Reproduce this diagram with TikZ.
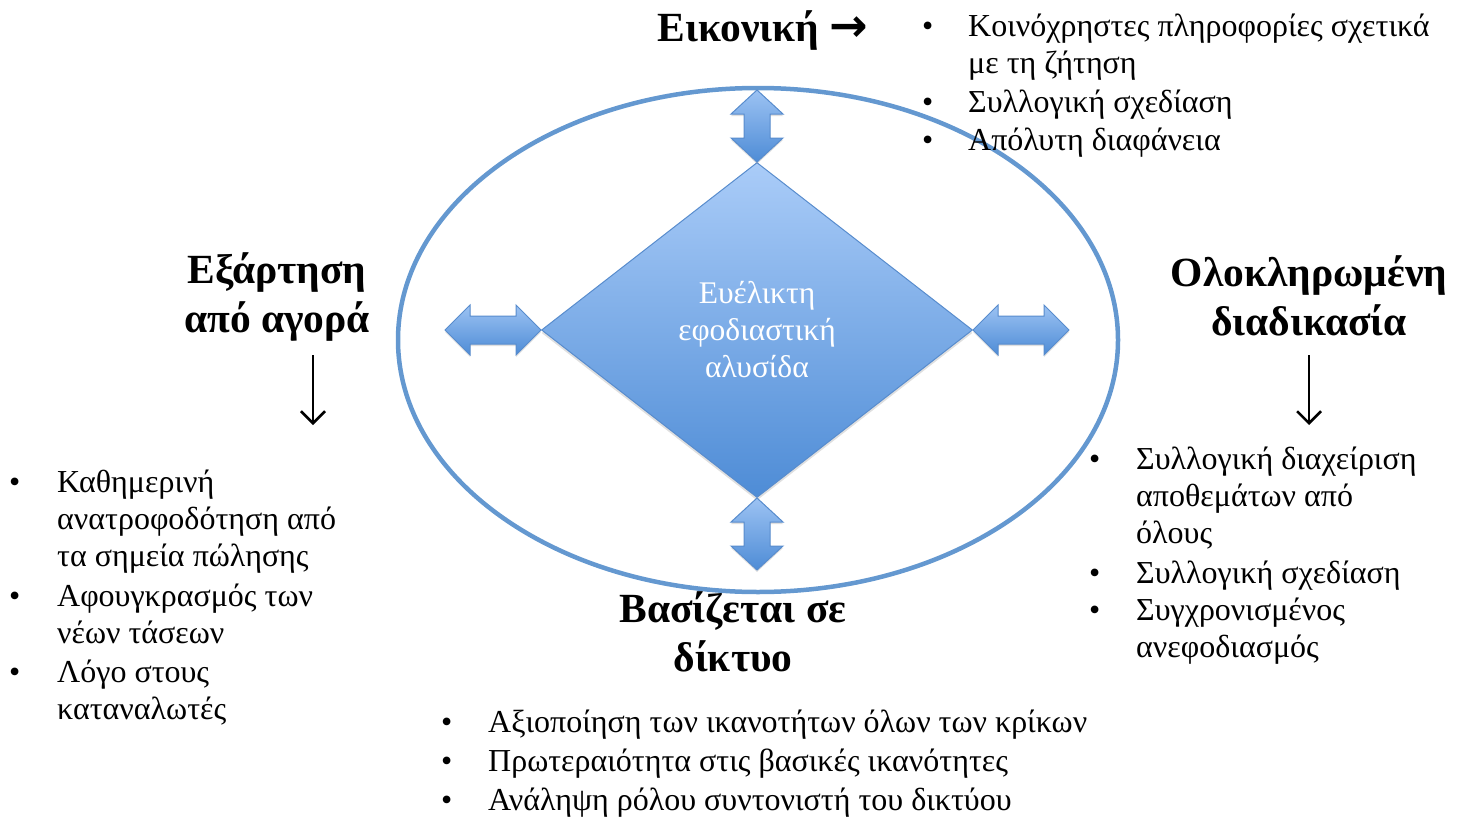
\documentclass[tikz,border=0pt]{standalone}
\usepackage{fontspec}
\setmainfont{Liberation Serif}
\newfontfamily\arrowfont{DejaVu Sans}
\usepackage{xcolor}
\usetikzlibrary{arrows.meta, shapes.geometric, shadows, positioning}

\definecolor{ringblue}{RGB}{100,152,208}
\definecolor{edgeblue}{RGB}{88,140,205}
\definecolor{toplight}{RGB}{170,204,248}
\definecolor{botdark}{RGB}{78,140,214}

\begin{document}
\begin{tikzpicture}[x=1pt, y=-1pt]
    % Define styles
    \tikzstyle{ring}=[ellipse, draw=ringblue, line width=4.5pt, minimum width=720pt, minimum height=504pt]
    \tikzstyle{core}=[diamond, draw=edgeblue, line width=1pt, top color=toplight, bottom color=botdark,
        minimum width=431pt, minimum height=335pt, inner sep=0pt, aspect=1.29, text=white,
        align=center, font=\fontsize{31.5}{37}\selectfont,
        drop shadow={opacity=0.25, shadow xshift=0pt, shadow yshift=-3pt}]
    \tikzstyle{heading}=[font=\fontsize{41.5}{49}\selectfont\bfseries, align=center, inner sep=0pt]
    \tikzstyle{bullets}=[font=\fontsize{32}{37}\selectfont, inner sep=0pt, anchor=north west]
    \tikzstyle{downarrow}=[draw=black, line width=2.5pt, -{Straight Barb[length=12pt, width=24pt, line width=2.5pt]}]
    \tikzstyle{dualfill}=[draw=edgeblue, line width=1pt, top color=toplight!85!botdark, bottom color=botdark,
        drop shadow={opacity=0.25, shadow xshift=0pt, shadow yshift=-2pt}]
    \tikzset{
        pics/harrow/.style={code={
            \path[dualfill] (-48,0) -- (-23,-25) -- (-23,-14) -- (23,-14) -- (23,-25) -- (48,0)
                -- (23,25) -- (23,14) -- (-23,14) -- (-23,25) -- cycle;}},
        pics/varrow/.style={code={
            \path[dualfill] (0,-36) -- (26,-12) -- (13,-12) -- (13,12) -- (26,12) -- (0,36)
                -- (-26,12) -- (-13,12) -- (-13,-12) -- (-26,-12) -- cycle;}}
    }

    \useasboundingbox (0,0) rectangle (1470,819);

    % Outer ring and the chain in the middle
    \node[ring] (ringe) at (758,340) {};
    \node[core] (chain) at (757,330) {Ευέλικτη\\εφοδιαστική\\αλυσίδα};

    % Double arrows on the four corners
    \pic at ([xshift=-48pt]chain.west) {harrow};
    \pic at ([xshift=48pt]chain.east) {harrow};
    \pic at ([yshift=36pt]chain.north) {varrow};
    \pic at ([yshift=-36pt]chain.south) {varrow};

    % Headings
    \node[heading] (iconic) at (763,30) {Εικονική {\arrowfont\bfseries\fontsize{46}{49}\selectfont →}};
    \node[heading] (market) at (277,297) {Εξάρτηση\\από αγορά};
    \node[heading] (integrated) at (1309,296) {Ολοκληρωμένη\\διαδικασία};
    \node[heading] (network) at (733,632) {Βασίζεται σε\\δίκτυο};

    % Down arrows under the side headings
    \foreach \name/\x in {mkt/313, intg/1309} {
        \coordinate (\name-from) at (\x,355);
        \coordinate (\name-to) at (\x,425);
        \draw[downarrow] (\name-from) -- (\name-to);
    }

    % Lists
    \node[bullets] (iconiclist) at (922,10) {\begin{tabular}{@{}p{46pt}@{}l@{}}
        • & Κοινόχρηστες πληροφορίες σχετικά\\
          & με τη ζήτηση\\[2pt]
        • & Συλλογική σχεδίαση\\[1pt]
        • & Απόλυτη διαφάνεια
    \end{tabular}};
    \node[bullets] (marketlist) at (9,466) {\begin{tabular}{@{}p{48pt}@{}l@{}}
        • & Καθημερινή\\
          & ανατροφοδότηση από\\
          & τα σημεία πώλησης\\[3pt]
        • & Αφουγκρασμός των\\
          & νέων τάσεων\\[2pt]
        • & Λόγο στους\\
          & καταναλωτές
    \end{tabular}};
    \node[bullets] (integlist) at (1089,443) {\begin{tabular}{@{}p{47pt}@{}l@{}}
        • & Συλλογική διαχείριση\\
          & αποθεμάτων από\\
          & όλους\\[3pt]
        • & Συλλογική σχεδίαση\\
        • & Συγχρονισμένος\\
          & ανεφοδιασμός
    \end{tabular}};
    \node[bullets] (netlist) at (441,706) {\begin{tabular}{@{}p{47pt}@{}l@{}}
        • & Αξιοποίηση των ικανοτήτων όλων των κρίκων\\[2pt]
        • & Πρωτεραιότητα στις βασικές ικανότητες\\[2pt]
        • & Ανάληψη ρόλου συντονιστή του δικτύου
    \end{tabular}};
\end{tikzpicture}
\end{document}
